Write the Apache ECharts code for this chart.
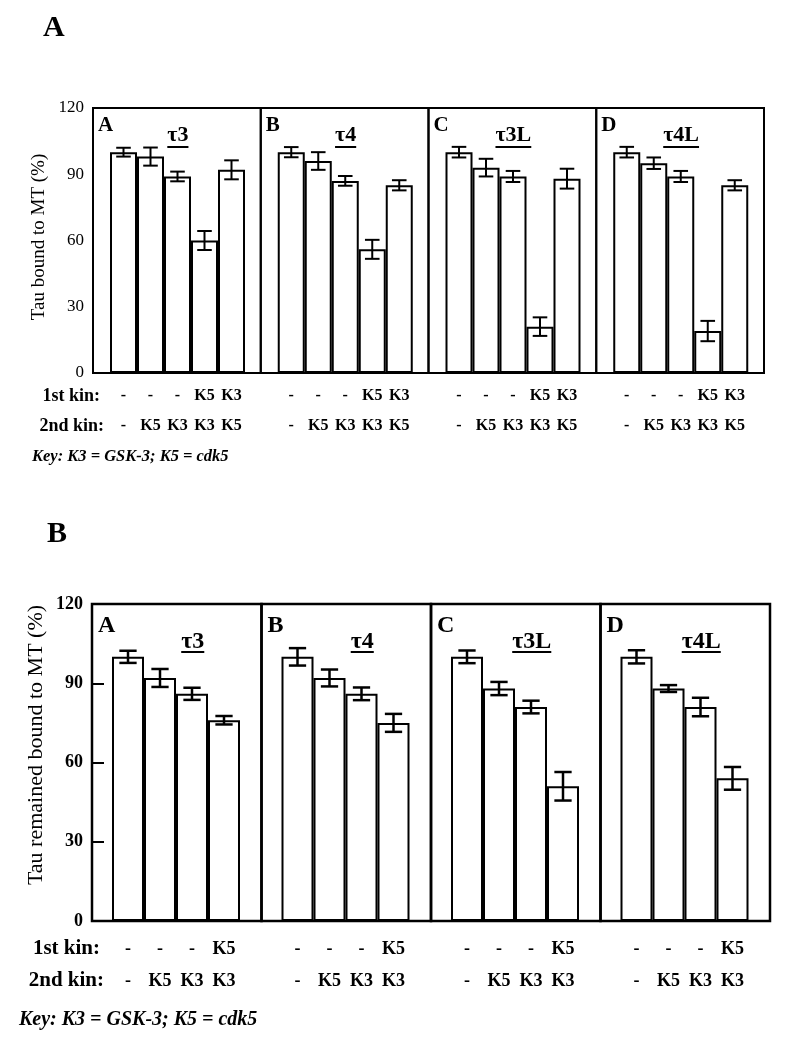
<!DOCTYPE html>
<html><head><meta charset="utf-8">
<script src="https://cdn.jsdelivr.net/npm/echarts@6/dist/echarts.min.js"></script>
<style>html,body{margin:0;padding:0;background:#fff}#c{width:800px;height:1050px}</style>
</head><body><div id="c"></div>
<script>
const FONT = '"Liberation Serif", "Times New Roman", serif';

// ---------- Panel A data ----------
const panelA_isoforms = ['τ3', 'τ4', 'τ3L', 'τ4L'];
const panelA_letters = ['A', 'B', 'C', 'D'];
const panelA_kin1 = ['-', '-', '-', 'K5', 'K3'];
const panelA_kin2 = ['-', 'K5', 'K3', 'K3', 'K5'];
const panelA_tau3 = [100, 98, 89, 60, 92];
const panelA_tau3_err = [2, 4.1, 2.2, 4.3, 4.3];
const panelA_tau4 = [100, 96, 87, 56, 85];
const panelA_tau4_err = [2.3, 4, 2.2, 4.3, 2.3];
const panelA_tau3L = [100, 93, 89, 21, 88];
const panelA_tau3L_err = [2.4, 4, 2.5, 4.2, 4.5];
const panelA_tau4L = [100, 95, 89, 19, 85];
const panelA_tau4L_err = [2.4, 2.6, 2.5, 4.6, 2.3];

// ---------- Panel B data ----------
const panelB_isoforms = ['τ3', 'τ4', 'τ3L', 'τ4L'];
const panelB_letters = ['A', 'B', 'C', 'D'];
const panelB_kin1 = ['-', '-', '-', 'K5'];
const panelB_kin2 = ['-', 'K5', 'K3', 'K3'];
const panelB_tau3 = [100, 92, 86, 76];
const panelB_tau3_err = [2.3, 3.4, 2.3, 1.6];
const panelB_tau4 = [100, 92, 86, 75];
const panelB_tau4_err = [3.3, 3.2, 2.4, 3.4];
const panelB_tau3L = [100, 88, 81, 51];
const panelB_tau3L_err = [2.4, 2.5, 2.4, 5.4];
const panelB_tau4L = [100, 88, 81, 54];
const panelB_tau4L_err = [2.5, 1.3, 3.5, 4.3];

const yMin = 0, yMax = 120, yInterval = 30;

const chart = echarts.init(document.getElementById('c'));
const grids = [], xAxes = [], yAxes = [], series = [], graphics = [];

const mctx = document.createElement('canvas').getContext('2d');
function textWidth(t, font) { mctx.font = font; return mctx.measureText(t).width; }

function errRender(lw, capFrac) {
  return function (params, api) {
    const x = api.value(0), v = api.value(1), e = api.value(2);
    const top = api.coord([x, v + e]);
    const bot = api.coord([x, v - e]);
    const bw = api.size([1, 0])[0];
    const cap = bw * capFrac;
    const st = { stroke: '#000', lineWidth: lw };
    return {
      type: 'group', children: [
        { type: 'line', shape: { x1: top[0], y1: top[1], x2: bot[0], y2: bot[1] }, style: st },
        { type: 'line', shape: { x1: top[0] - cap, y1: top[1], x2: top[0] + cap, y2: top[1] }, style: st },
        { type: 'line', shape: { x1: bot[0] - cap, y1: bot[1], x2: bot[0] + cap, y2: bot[1] }, style: st }
      ]
    };
  };
}

function addPanel(cfg) {
  const W = cfg.width / 4;
  cfg.values.forEach((vals, i) => {
    const fl = cfg.left + i * W;
    const fi = grids.length;
    grids.push({ left: fl, top: cfg.top, width: W, height: cfg.height, show: true,
      borderColor: '#000', borderWidth: cfg.frameWidth, backgroundColor: 'transparent' });
    xAxes.push({ gridIndex: fi, type: 'category', data: [''], show: false });
    yAxes.push({
      gridIndex: fi, type: 'value', min: yMin, max: yMax, interval: yInterval, show: i === 0,
      axisLine: { show: false },
      axisTick: { show: cfg.ticks, inside: true, length: 12, lineStyle: { color: '#000', width: 2 } },
      splitLine: { show: false },
      axisLabel: { color: '#000', fontFamily: FONT, fontSize: cfg.yLabelSize, fontWeight: cfg.yLabelWeight, margin: 9 }
    });
    const bi = grids.length;
    grids.push({ left: fl + cfg.inset, top: cfg.top, width: cfg.barSpan, height: cfg.height, show: false });
    xAxes.push({
      gridIndex: bi, type: 'category', data: cfg.kin1.map((k, j) => k + '\n' + cfg.kin2[j]),
      axisLine: { show: false }, axisTick: { show: false },
      axisLabel: { color: '#000', fontFamily: FONT, fontSize: cfg.kinSize, fontWeight: 'bold',
        lineHeight: cfg.kinLine, margin: cfg.kinMargin, interval: 0 }
    });
    yAxes.push({ gridIndex: bi, type: 'value', min: yMin, max: yMax, interval: yInterval, show: false });
    series.push({ type: 'bar', xAxisIndex: bi, yAxisIndex: bi, data: vals, barCategoryGap: '0%', silent: true,
      itemStyle: { color: '#fff', borderColor: '#000', borderWidth: cfg.barBorder }, z: 2 });
    series.push({ type: 'custom', xAxisIndex: bi, yAxisIndex: bi, silent: true, z: 3,
      data: vals.map((v, j) => [j, v, cfg.errors[i][j]]), renderItem: errRender(cfg.errWidth, cfg.capFrac) });

    // subpanel letter
    graphics.push({ type: 'text', x: fl + cfg.letterDx, y: cfg.letterY,
      style: { text: cfg.letters[i], font: 'bold ' + cfg.letterSize + 'px ' + FONT, fill: '#000',
        textAlign: 'left', textVerticalAlign: 'middle' } });
    // isoform label with underline
    const cx = fl + W / 2 + cfg.isoDx;
    const isoFont = 'bold ' + cfg.isoSize + 'px ' + FONT;
    graphics.push({ type: 'text', x: cx, y: cfg.isoY,
      style: { text: cfg.isoforms[i], font: isoFont, fill: '#000', textAlign: 'center', textVerticalAlign: 'middle' } });
    const tw = textWidth(cfg.isoforms[i], isoFont);
    graphics.push({ type: 'line', shape: { x1: cx - tw / 2, y1: cfg.underY, x2: cx + tw / 2, y2: cfg.underY },
      style: { stroke: '#000', lineWidth: 2 } });
  });
  // y axis title
  graphics.push({ type: 'text', x: cfg.nameX, y: cfg.nameY, rotation: Math.PI / 2,
    style: { text: cfg.yName, font: cfg.nameWeight + ' ' + cfg.nameSize + 'px ' + FONT, fill: '#000',
      textAlign: 'center', textVerticalAlign: 'middle' } });
  // kin row labels
  const rowFont = 'bold ' + cfg.rowSize + 'px ' + FONT;
  graphics.push({ type: 'text', x: cfg.kinLabelX, y: cfg.kin1Y,
    style: { text: '1st kin:', font: rowFont, fill: '#000', textAlign: 'right', textVerticalAlign: 'middle' } });
  graphics.push({ type: 'text', x: cfg.kinLabelX + 4, y: cfg.kin2Y,
    style: { text: '2nd kin:', font: rowFont, fill: '#000', textAlign: 'right', textVerticalAlign: 'middle' } });
  graphics.push({ type: 'text', x: cfg.keyX, y: cfg.keyY,
    style: { text: 'Key: K3 = GSK-3; K5 = cdk5', font: 'italic bold ' + cfg.keySize + 'px ' + FONT, fill: '#000',
      textAlign: 'left', textVerticalAlign: 'middle' } });
  graphics.push({ type: 'text', x: cfg.titleX, y: cfg.titleY,
    style: { text: cfg.title, font: 'bold 30px ' + FONT, fill: '#000', textAlign: 'left', textVerticalAlign: 'middle' } });
}

addPanel({
  title: 'A', titleX: 43, titleY: 28,
  left: 93, width: 671, top: 108, height: 265, inset: 17, barSpan: 135,
  values: [panelA_tau3, panelA_tau4, panelA_tau3L, panelA_tau4L],
  errors: [panelA_tau3_err, panelA_tau4_err, panelA_tau3L_err, panelA_tau4L_err],
  isoforms: panelA_isoforms, letters: panelA_letters, kin1: panelA_kin1, kin2: panelA_kin2,
  frameWidth: 2, barBorder: 2, errWidth: 2, capFrac: 0.27, ticks: false,
  yLabelSize: 17, yLabelWeight: 'normal', yName: 'Tau bound to MT (%)', nameX: 39, nameY: 237, nameSize: 19, nameWeight: 'normal',
  kinSize: 16, kinLine: 30, kinMargin: 8, rowSize: 18,
  letterDx: 5, letterY: 126, letterSize: 21, isoDx: 1, isoY: 135, isoSize: 22, underY: 147,
  kinLabelX: 100, kin1Y: 396, kin2Y: 426, keyX: 32, keyY: 457, keySize: 16.5
});

addPanel({
  title: 'B', titleX: 47, titleY: 534,
  left: 92, width: 678, top: 604, height: 317, inset: 20, barSpan: 128,
  values: [panelB_tau3, panelB_tau4, panelB_tau3L, panelB_tau4L],
  errors: [panelB_tau3_err, panelB_tau4_err, panelB_tau3L_err, panelB_tau4L_err],
  isoforms: panelB_isoforms, letters: panelB_letters, kin1: panelB_kin1, kin2: panelB_kin2,
  frameWidth: 2.5, barBorder: 2, errWidth: 2.5, capFrac: 0.27, ticks: true,
  yLabelSize: 18, yLabelWeight: 'bold', yName: 'Tau remained bound to MT (%)', nameX: 36, nameY: 745, nameSize: 22, nameWeight: 'normal',
  kinSize: 18, kinLine: 32, kinMargin: 12, rowSize: 21,
  letterDx: 6, letterY: 626, letterSize: 24, isoDx: 16, isoY: 642, isoSize: 24, underY: 652,
  kinLabelX: 100, kin1Y: 949, kin2Y: 981, keyX: 19, keyY: 1020, keySize: 20
});

chart.setOption({
  animation: false,
  backgroundColor: '#fff',
  grid: grids, xAxis: xAxes, yAxis: yAxes, series: series,
  graphic: { elements: graphics }
});
</script></body></html>
